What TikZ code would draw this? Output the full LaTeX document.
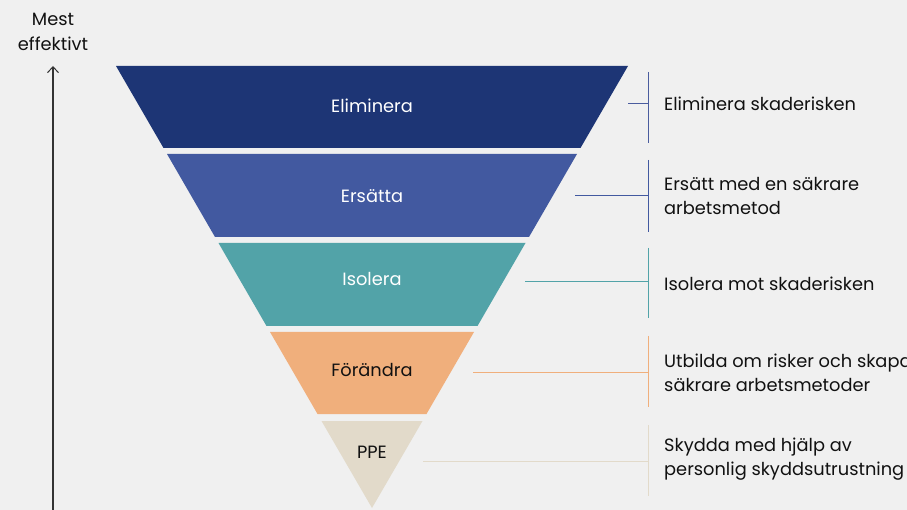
\documentclass[tikz,border=0pt]{standalone}
\usepackage{fontspec}
\setmainfont{Poppins}
\usetikzlibrary{arrows.meta, positioning}
\definecolor{pagebg}{HTML}{F0F0F0}
\definecolor{elimcol}{HTML}{1D3575}
\definecolor{elimline}{HTML}{4A5C9E}
\definecolor{ersattcol}{HTML}{4259A0}
\definecolor{isolcol}{HTML}{52A3A8}
\definecolor{forandcol}{HTML}{F0AF7C}
\definecolor{ppecol}{HTML}{E2DACA}
\definecolor{txtcol}{HTML}{111111}

\begin{document}
\begin{tikzpicture}[x=1pt, y=-1pt,
    every node/.style={font=\fontsize{17.8}{24.5}\selectfont, text=txtcol},
    band/.style={draw=none},
    bandlbl/.style={anchor=center},
    desc/.style={anchor=west, align=left, inner sep=0pt},
    link/.style={line width=1pt},
    effarrow/.style={line width=1.3pt, draw=black!80, -{Straight Barb[length=6pt, width=11pt, line width=1pt]}}
]
\useasboundingbox[fill=pagebg] (0,0) rectangle (907,510);
% Bands of the funnel
\fill[band, elimcol]   (116,66)  -- (628,66)  -- (580.5,148) -- (163.5,148) -- cycle;
\fill[band, ersattcol] (167,154) -- (577,154) -- (529,237) -- (215,237) -- cycle;
\fill[band, isolcol]   (218.5,243) -- (525.5,243) -- (477.5,326) -- (266.5,326) -- cycle;
\fill[band, forandcol] (270,332) -- (474,332) -- (426.5,414) -- (317.5,414) -- cycle;
\fill[band, ppecol]    (321.5,421) -- (422.5,421) -- (372,508) -- cycle;
% Band labels
\node[bandlbl, text=white] (elim) at (372,106) {Eliminera};
\node[bandlbl, text=white] (ersatt) at (372,196) {Ersätta};
\node[bandlbl, text=white] (isol) at (372,279) {Isolera};
\node[bandlbl] (forand) at (372,370) {Förändra};
\node[bandlbl] (ppe) at (372,452) {PPE};
% Connectors
\coordinate (e1) at (628,104); \coordinate (b1) at (648,104);
\coordinate (t1) at (648,72);  \coordinate (u1) at (648,143);
\coordinate (e2) at (575,196); \coordinate (b2) at (648,196);
\coordinate (t2) at (648,160); \coordinate (u2) at (648,232);
\coordinate (e3) at (525,282); \coordinate (b3) at (648,282);
\coordinate (t3) at (648,248); \coordinate (u3) at (648,318);
\coordinate (e4) at (473,372); \coordinate (b4) at (648,372);
\coordinate (t4) at (648,336); \coordinate (u4) at (648,407);
\coordinate (e5) at (423,461); \coordinate (b5) at (648,461);
\coordinate (t5) at (648,425); \coordinate (u5) at (648,496);
\draw[link, elimline] (e1) -- (b1) (t1) -- (u1);
\draw[link, ersattcol] (e2) -- (b2) (t2) -- (u2);
\draw[link, isolcol] (e3) -- (b3) (t3) -- (u3);
\draw[link, forandcol] (e4) -- (b4) (t4) -- (u4);
\draw[link, ppecol] (e5) -- (b5) (t5) -- (u5);
% Descriptions
\node[desc] (d1) at (664,104) {Eliminera skaderisken};
\node[desc] (d2) at (664,196) {Ersätt med en säkrare\\arbetsmetod};
\node[desc] (d3) at (664,284) {Isolera mot skaderisken};
\node[desc] (d4) at (664,373) {Utbilda om risker och skapa\\säkrare arbetsmetoder};
\node[desc] (d5) at (664,459) {Skydda med hjälp av\\personlig skyddsutrustning};
% Effectiveness arrow
\node[align=center] (mest) at (53,32) {Mest\\effektivt};
\coordinate (base) at (53,512);
\coordinate (tip) at (53,66);
\draw[effarrow] (base) -- (tip);
\end{tikzpicture}
\end{document}
